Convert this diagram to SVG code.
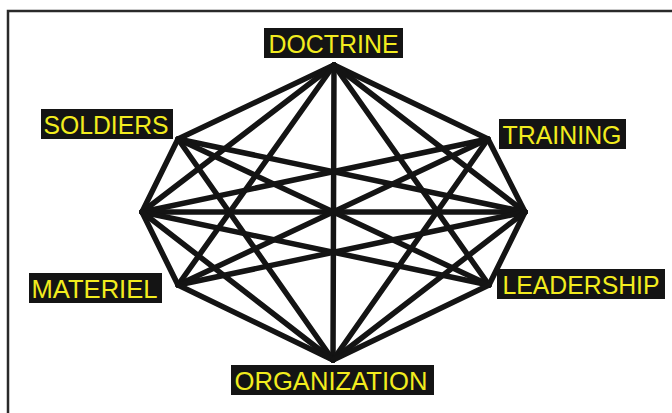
<svg xmlns="http://www.w3.org/2000/svg" width="672" height="413" viewBox="0 0 672 413">
<style>
.lbl rect{fill:#141414}
.lbl text{fill:#f2ec1e;font-family:"Liberation Sans",Arial,sans-serif;font-size:26px;text-anchor:middle}
#edges line{stroke:#141414;stroke-width:5.5;stroke-linecap:round}
</style>
<rect width="672" height="413" fill="#fff"/>
<path d="M8,413 V11 H672" fill="none" stroke="#2a2a2a" stroke-width="2.5"/>
<g id="edges">
<line x1="334" y1="65" x2="178" y2="139"/>
<line x1="334" y1="65" x2="488" y2="139"/>
<line x1="334" y1="65" x2="142" y2="212"/>
<line x1="334" y1="65" x2="525" y2="212"/>
<line x1="334" y1="65" x2="178" y2="285"/>
<line x1="334" y1="65" x2="489" y2="285"/>
<line x1="334" y1="65" x2="333" y2="360"/>
<line x1="178" y1="139" x2="142" y2="212"/>
<line x1="178" y1="139" x2="525" y2="212"/>
<line x1="178" y1="139" x2="489" y2="285"/>
<line x1="178" y1="139" x2="333" y2="360"/>
<line x1="488" y1="139" x2="142" y2="212"/>
<line x1="488" y1="139" x2="525" y2="212"/>
<line x1="488" y1="139" x2="178" y2="285"/>
<line x1="488" y1="139" x2="333" y2="360"/>
<line x1="142" y1="212" x2="525" y2="212"/>
<line x1="142" y1="212" x2="178" y2="285"/>
<line x1="142" y1="212" x2="489" y2="285"/>
<line x1="142" y1="212" x2="333" y2="360"/>
<line x1="525" y1="212" x2="178" y2="285"/>
<line x1="525" y1="212" x2="489" y2="285"/>
<line x1="525" y1="212" x2="333" y2="360"/>
<line x1="178" y1="285" x2="333" y2="360"/>
<line x1="489" y1="285" x2="333" y2="360"/>
</g>
<g id="doctrine" class="lbl"><rect x="264" y="28" width="139" height="30"/><text x="333.5" y="52.5" textLength="130" lengthAdjust="spacingAndGlyphs">DOCTRINE</text></g>
<g id="soldiers" class="lbl"><rect x="41" y="109" width="132" height="30"/><text x="106" y="133.5" textLength="125" lengthAdjust="spacingAndGlyphs">SOLDIERS</text></g>
<g id="training" class="lbl"><rect x="499" y="119" width="127" height="30"/><text x="562" y="143.5" textLength="119" lengthAdjust="spacingAndGlyphs">TRAINING</text></g>
<g id="materiel" class="lbl"><rect x="29" y="273" width="133" height="30"/><text x="94.5" y="297.5" textLength="126" lengthAdjust="spacingAndGlyphs">MATERIEL</text></g>
<g id="leadership" class="lbl"><rect x="497" y="269" width="168" height="30"/><text x="581" y="293.5" textLength="157" lengthAdjust="spacingAndGlyphs">LEADERSHIP</text></g>
<g id="organization" class="lbl"><rect x="231" y="365" width="203" height="30"/><text x="331" y="389.5" textLength="193" lengthAdjust="spacingAndGlyphs">ORGANIZATION</text></g>
</svg>
